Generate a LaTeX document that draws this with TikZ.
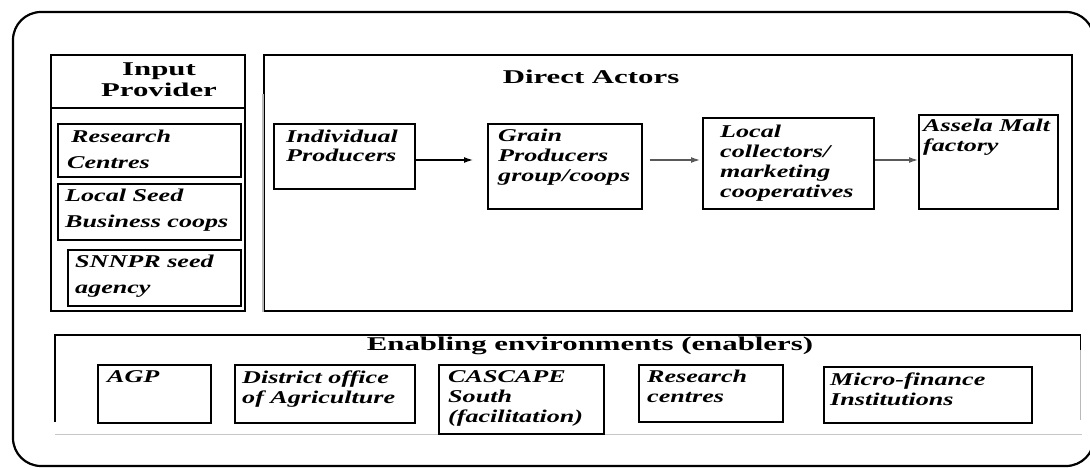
\documentclass[tikz,border=0pt]{standalone}
\usepackage{fontspec}
\usetikzlibrary{arrows.meta}
\newfontfamily\itfont{Liberation Serif}[FakeStretch=1.45]
\newfontfamily\hdfont{Liberation Serif}[FakeStretch=1.58]

\tikzset{
  box/.style={draw, line width=1.6pt, anchor=north west, inner sep=0pt},
  frame/.style={line width=1.8pt},
  itx/.style={font=\itfont\bfseries\itshape\fontsize{18}{20}\selectfont, align=left, inner sep=0pt, anchor=base west},
  itwide/.style={itx, font=\itfont\bfseries\itshape\fontsize{18}{26}\selectfont},
  hd/.style={font=\hdfont\bfseries\fontsize{19.5}{21}\selectfont, align=center, inner sep=0pt, anchor=base},
  flow/.style={-{Latex[length=9pt,width=6pt]}, line width=1.3pt},
}

\begin{document}
\begin{tikzpicture}[x=1pt, y=-1pt]
\useasboundingbox (0,0) rectangle (1090,468);
%
% value chain map (text nodes sit on the baseline of their last line)

%% outer frame
\draw[line width=2.2pt, rounded corners=28pt] (13,12) rectangle (1094,466);

%% input providers
\node[box, minimum width=194pt, minimum height=256pt] (input) at (50,54) {};
\draw[frame] (input.west |- 0,108) -- (input.east |- 0,108);
	\node[hd] (inputtitle) at (159,97) {Input\\Provider};
\node[box, minimum width=183pt, minimum height=53pt] (research) at (57,123) {};
	\node[itwide] (researchtxt) at (67,168) {\hspace*{4pt}Research\\Centres};
\node[box, minimum width=183pt, minimum height=56pt] (seed) at (57,183) {};
	\node[itwide] (seedtxt) at (65,227) {Local Seed\\Business coops};
\node[box, minimum width=173pt, minimum height=56pt] (snnpr) at (67,249) {};
	\node[itwide] (snnprtxt) at (75,293) {SNNPR seed\\agency};

%% direct actors
\node[box, minimum width=808pt, minimum height=256pt] (direct) at (263,54) {};
\draw[line width=1.8pt, gray!55] ([yshift=-40pt]direct.north west) -- (direct.south west);
	\node[hd] (directtitle) at (591,84) {Direct Actors};
\node[box, minimum width=141pt, minimum height=65pt] (indiv) at (273,123) {};
	\node[itx] (indivtxt) at (286,162) {Individual\\Producers};
\node[box, minimum width=154pt, minimum height=85pt] (grain) at (487,123) {};
	\node[itx] (graintxt) at (498,182) {Grain\\Producers\\group/coops};
\node[box, minimum width=171pt, minimum height=91pt] (collect) at (702,117) {};
	\node[itx] (collecttxt) at (720,197) {Local\\collectors/\\marketing\\cooperatives};
\node[box, minimum width=139pt, minimum height=94pt] (assela) at (918,114) {};
	\node[itx] (asselatxt) at (923,152) {Assela Malt\\factory};

\coordinate (flowrow) at (0,160);
\draw[flow, shorten >=14pt] (indiv.east |- flowrow) -- (grain.west |- flowrow);
\draw[flow, gray!70!black, shorten <=7pt, shorten >=2pt] (grain.east |- flowrow) -- (collect.west |- flowrow);
\draw[flow, gray!70!black] (collect.east |- flowrow) -- (assela.west |- flowrow);

%% enablers
\node[anchor=north west, inner sep=0pt, minimum width=1025pt, minimum height=99pt] (enab) at (55,335) {};
\draw[frame] ([yshift=12pt]enab.south west) -- (enab.north west) -- (enab.north east) -- ([yshift=-15pt]enab.north east);
\draw[frame, gray!55] ([yshift=-15pt]enab.north east) -- ([yshift=14pt]enab.south east);
\draw[frame, gray!45] (enab.south west) -- ([xshift=2pt]enab.south east);
	\node[hd] (enabtitle) at (590,350) {Enabling environments (enablers)};
\node[box, minimum width=113pt, minimum height=58pt] (agp) at (97,364) {};
	\node[itx] (agptxt) at (107,382) {AGP};
\node[box, minimum width=180pt, minimum height=58pt] (district) at (234,364) {};
	\node[itx] (districttxt) at (242,403) {District office\\of Agriculture};
\node[box, minimum width=165pt, minimum height=69pt] (cascape) at (438,364) {};
	\node[itx] (cascapetxt) at (448,422) {CASCAPE\\South\\(facilitation)};
\node[box, minimum width=144pt, minimum height=57pt] (rescent) at (638,364) {};
	\node[itx] (rescenttxt) at (647,402) {Research\\centres};
\node[box, minimum width=208pt, minimum height=56pt] (microfin) at (823,366) {};
	\node[itx] (microfintxt) at (830,405) {Micro-finance\\Institutions};
\end{tikzpicture}
\end{document}
